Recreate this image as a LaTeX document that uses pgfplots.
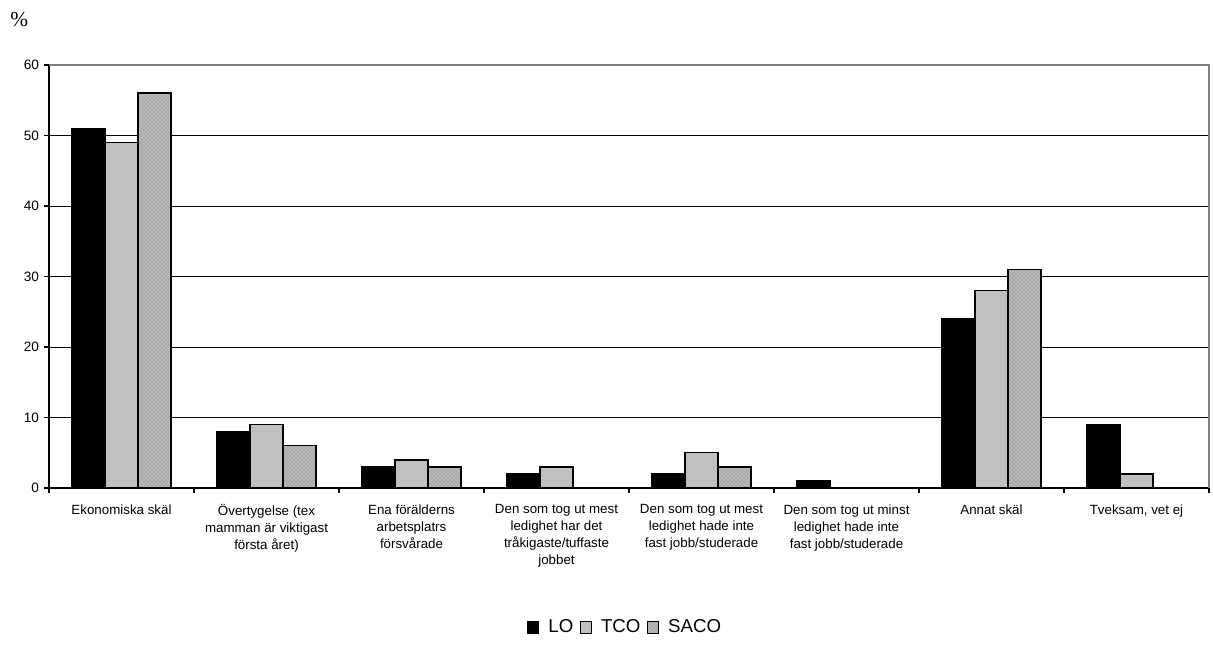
\documentclass[border=0pt]{standalone}
\usepackage{pgfplots}
\pgfplotsset{compat=1.18}
\usetikzlibrary{patterns}
\usepackage{fontspec}
\setmainfont{Liberation Sans}
\newfontfamily\serif{Liberation Serif}
\definecolor{tco}{RGB}{192,192,192}
\definecolor{saco}{RGB}{170,170,170}
\pgfplotstableread{
x LO TCO SACO
0 51 49 56
1 8 9 6
2 3 4 3
3 2 3 0
4 2 5 3
5 1 0 0
6 24 28 31
7 9 2 0
}\datatable
\begin{document}
\begin{tikzpicture}
\path[use as bounding box] (0,0) rectangle (909.75pt,483pt);
\node[font=\serif\fontsize{16}{18}\selectfont] at (14.5pt,468pt) {\%};
\begin{axis}[
  at={(36.75pt,117pt)}, anchor=south west,
  scale only axis, width=870pt, height=317.25pt,
  ybar=0pt, bar width=24.75pt,
  xmin=-0.5, xmax=7.5, ymin=0, ymax=60,
  ytick={0,10,...,60},
  xtick={0,...,7},
  minor xtick={-0.5,0.5,...,7.5},
  major x tick style={draw=none},
  minor tick length=4pt, major tick length=4pt,
  tick align=outside,
  axis x line*=bottom, axis y line*=left,
  axis line style={black, line width=0.9pt},
  ymajorgrids, grid style={black, line width=0.7pt},
  tick style={black, line width=0.9pt},
  /pgf/number format/assume math mode=true,
  yticklabel style={font=\fontsize{10.2}{12}\selectfont},
  xticklabels={
    {Ekonomiska skäl},
    {Övertygelse (tex\\mamman är viktigast\\första året)},
    {Ena förälderns\\arbetsplatrs\\försvårade},
    {Den som tog ut mest\\ledighet har det\\tråkigaste/tuffaste\\jobbet},
    {Den som tog ut mest\\ledighet hade inte\\fast jobb/studerade},
    {Den som tog ut minst\\ledighet hade inte\\fast jobb/studerade},
    {Annat skäl},
    {Tveksam, vet ej}},
  xticklabel style={font=\fontsize{10}{12.75}\selectfont, align=center, yshift=-5pt},
  legend style={at={(0.497,-0.329)}, anchor=center, draw=none, legend columns=-1,
    font=\fontsize{14}{16}\selectfont,
    /tikz/every even column/.append style={column sep=3pt},
    /tikz/every odd column/.append style={column sep=5pt}},
  legend image code/.code={\draw[#1, line width=0.8pt] (0pt,-4.5pt) rectangle (8pt,4.5pt);},
  clip=false,
]
\addplot[fill=black, draw=black, line width=1.1pt] table[x=x,y=LO]{\datatable};
\addplot[fill=tco, draw=black, line width=1.1pt] table[x=x,y=TCO]{\datatable};
\addplot[fill=saco, draw=black, line width=1.1pt, postaction={pattern=crosshatch dots, pattern color=gray!20}] table[x=x,y=SACO]{\datatable};
\legend{LO,TCO,SACO}
\draw[gray, line width=1.5pt] (rel axis cs:0,1) -- (rel axis cs:1,1) -- (rel axis cs:1,0);
\end{axis}
\end{tikzpicture}
\end{document}
